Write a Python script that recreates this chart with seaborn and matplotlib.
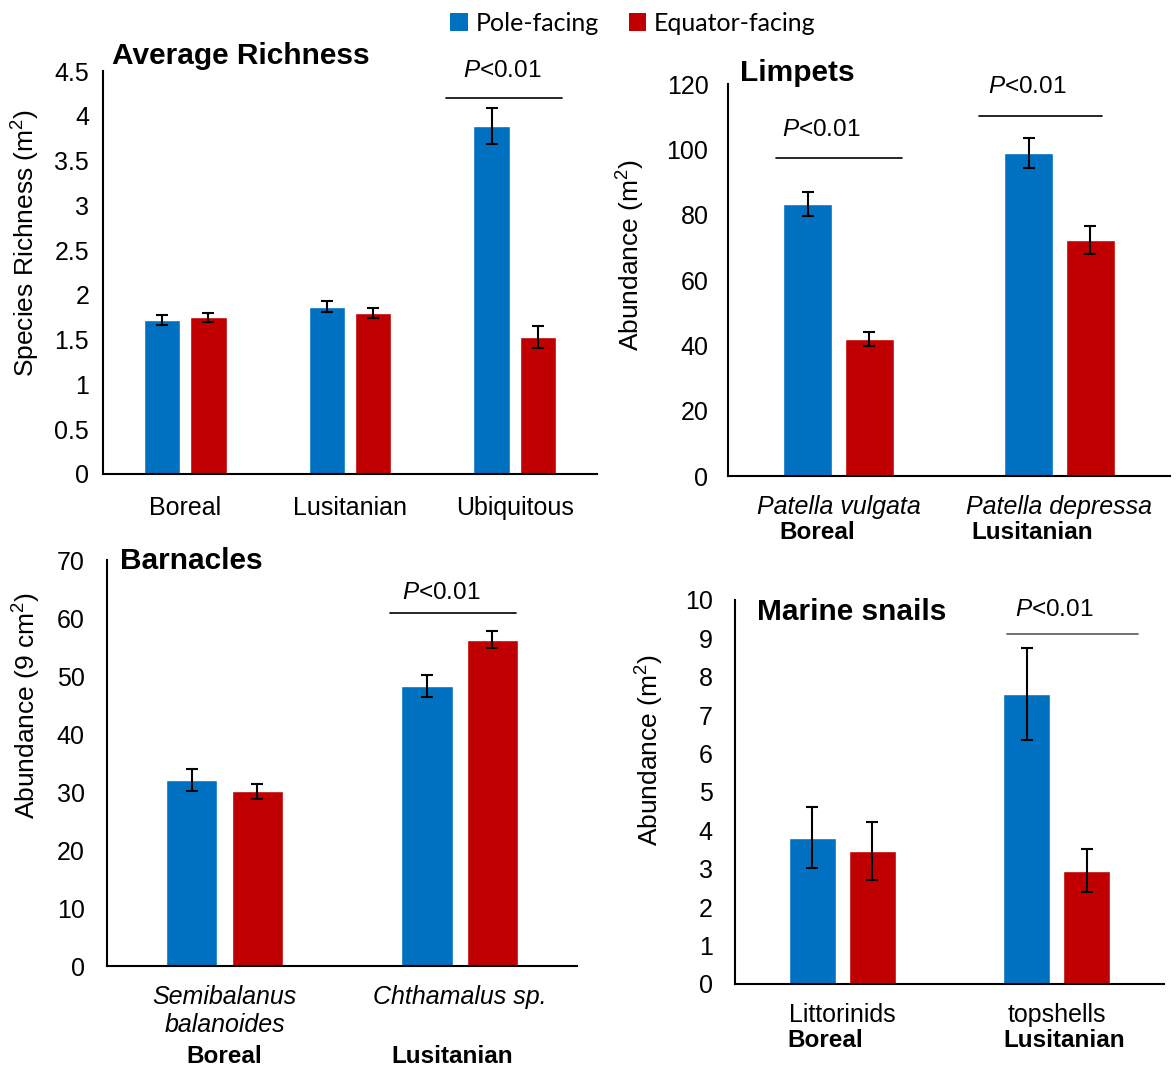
import numpy as np
import pandas as pd
import matplotlib
matplotlib.use("Agg")
import matplotlib.pyplot as plt
from matplotlib.patches import Patch
from matplotlib.ticker import FormatStrFormatter
import matplotlib.transforms as mtransforms
import seaborn as sns

facing = ["Pole-facing", "Equator-facing"]
colors = ["#0070C0", "#C00000"]

# Average richness
rich_groups = ["Boreal", "Lusitanian", "Ubiquitous"]
rich_pole = [1.72, 1.87, 3.89]
rich_eq = [1.75, 1.80, 1.53]
rich_pole_err = [0.06, 0.066, 0.2]
rich_eq_err = [0.053, 0.055, 0.118]

# Limpets
limp_species = ["Patella vulgata", "Patella depressa"]
limp_region = ["Boreal", "Lusitanian"]
limp_pole = [83.2, 98.9]
limp_eq = [42.0, 72.3]
limp_pole_err = [3.7, 4.6]
limp_eq_err = [2.2, 4.3]

# Barnacles
barn_species = ["Semibalanus\nbalanoides", "Chthamalus sp."]
barn_region = ["Boreal", "Lusitanian"]
barn_pole = [32.1, 48.3]
barn_eq = [30.1, 56.3]
barn_pole_err = [1.85, 1.9]
barn_eq_err = [1.35, 1.45]

# Marine snails
snail_species = ["Littorinids", "topshells"]
snail_region = ["Boreal", "Lusitanian"]
snail_pole = [3.81, 7.55]
snail_eq = [3.46, 2.95]
snail_pole_err = [0.79, 1.21]
snail_eq_err = [0.76, 0.56]

sns.set_theme(style="white")
plt.rcParams["font.family"] = ["Liberation Sans", "DejaVu Sans"]
plt.rcParams["mathtext.fontset"] = "custom"
plt.rcParams["mathtext.rm"] = "Liberation Sans"
plt.rcParams["mathtext.it"] = "Liberation Sans:italic"
plt.rcParams["mathtext.bf"] = "Liberation Sans:bold"
for k in ["text.color", "axes.labelcolor", "xtick.color", "ytick.color"]:
    plt.rcParams[k] = "black"

fig = plt.figure(figsize=(11.76, 10.68), dpi=100)


def draw_panel(ax, cats, pole, eq, pole_err, eq_err, ymax, step, ypad, xpad=14):
    df = pd.DataFrame({
        "cat": cats * 2,
        "facing": [facing[0]] * len(cats) + [facing[1]] * len(cats),
        "value": pole + eq,
    })
    sns.barplot(data=df, x="cat", y="value", hue="facing", hue_order=facing,
                palette=colors, width=0.56, gap=0.214, saturation=1,
                errorbar=None, legend=False, ax=ax)
    # error bars on top of the seaborn bars
    for cont, errs in zip(ax.containers, [pole_err, eq_err]):
        xs = [b.get_x() + b.get_width() / 2 for b in cont]
        hs = [b.get_height() for b in cont]
        ax.errorbar(xs, hs, yerr=errs, fmt="none", ecolor="black",
                    elinewidth=1.5, capsize=4, capthick=1.5)
    ax.set_ylim(0, ymax)
    ax.set_xlim(-0.5, len(cats) - 0.5)
    ax.set_yticks(np.arange(0, ymax + step / 2, step))
    ax.yaxis.set_major_formatter(FormatStrFormatter("%g"))
    ax.tick_params(length=0, labelsize=18)
    ax.tick_params(axis="x", pad=xpad)
    ax.tick_params(axis="y", pad=ypad)
    ax.set_xlabel("")
    for s in ["top", "right"]:
        ax.spines[s].set_visible(False)
    for s in ["left", "bottom"]:
        ax.spines[s].set_color("black")
        ax.spines[s].set_linewidth(1.5)


def p_mark(ax, x0, x1, y, tx, ty, color="black"):
    ax.plot([x0, x1], [y, y], color=color, lw=1.2)
    ax.text(tx, ty, "$P$<0.01", ha="center", va="center", fontsize=17.5)


def region_labels(ax, regions, offsets, y):
    tr = mtransforms.blended_transform_factory(ax.transData, ax.transAxes)
    for i, (r, off) in enumerate(zip(regions, offsets)):
        ax.text(i + off, y, r, transform=tr, ha="center", va="center",
                fontsize=17.5, fontweight="bold")


# Average richness
ax1 = fig.add_axes([0.0876, 0.5562, 0.42, 0.3773])
draw_panel(ax1, rich_groups, rich_pole, rich_eq, rich_pole_err, rich_eq_err, 4.5, 0.5, 10, xpad=16)
ax1.set_ylabel("Species Richness (m$^2$)", fontsize=19)
ax1.yaxis.set_label_coords(-0.124, 0.573)
ax1.text(0.018, 1.037, "Average Richness", transform=ax1.transAxes,
         fontsize=21.5, fontweight="bold", va="center")
p_mark(ax1, 1.586, 2.29, 4.2, 1.926, 4.5)

# Limpets
ax2 = fig.add_axes([0.619, 0.5543, 0.3759, 0.367])
draw_panel(ax2, limp_species, limp_pole, limp_eq, limp_pole_err, limp_eq_err, 120, 20, 14)
for t in ax2.get_xticklabels():
    t.set_fontstyle("italic")
ax2.set_ylabel("Abundance (m$^2$)", fontsize=19)
ax2.yaxis.set_label_coords(-0.184, 0.564)
ax2.text(0.027, 1.028, "Limpets", transform=ax2.transAxes,
         fontsize=21.5, fontweight="bold", va="center")
region_labels(ax2, limp_region, [-0.096, -0.124], -0.145)
p_mark(ax2, -0.281, 0.286, 97.3, -0.078, 106)
p_mark(ax2, 0.636, 1.193, 110.3, 0.852, 119)

# Barnacles
ax3 = fig.add_axes([0.091, 0.0955, 0.3997, 0.380])
draw_panel(ax3, barn_species, barn_pole, barn_eq, barn_pole_err, barn_eq_err, 70, 10, 16)
for t in ax3.get_xticklabels():
    t.set_fontstyle("italic")
    t.set_linespacing(1.2)
ax3.set_ylabel("Abundance (9 cm$^2$)", fontsize=19)
ax3.yaxis.set_label_coords(-0.136, 0.643)
ax3.text(0.028, 0.998, "Barnacles", transform=ax3.transAxes,
         fontsize=21.5, fontweight="bold", va="center")
region_labels(ax3, barn_region, [0.0, -0.03], -0.222)
p_mark(ax3, 0.706, 1.239, 60.9, 0.922, 64.3)

# Marine snails
ax4 = fig.add_axes([0.625, 0.0787, 0.3648, 0.3596])
draw_panel(ax4, snail_species, snail_pole, snail_eq, snail_pole_err, snail_eq_err, 10, 1, 16)
ax4.set_ylabel("Abundance (m$^2$)", fontsize=19)
ax4.yaxis.set_label_coords(-0.161, 0.609)
ax4.text(0.051, 0.969, "Marine snails", transform=ax4.transAxes,
         fontsize=21.5, fontweight="bold", va="center")
region_labels(ax4, snail_region, [-0.079, 0.034], -0.148)
p_mark(ax4, 0.769, 1.379, 9.12, 0.99, 9.74, color="#595959")

handles = [Patch(facecolor=c, edgecolor="none", label=f) for c, f in zip(colors, facing)]
fig.legend(handles=handles, loc="upper center", bbox_to_anchor=(0.538, 1.003),
           ncol=2, frameon=False, prop={"family": "Lato", "size": 18},
           handlelength=0.7, handleheight=0.7, handletextpad=0.3,
           columnspacing=1.2, borderaxespad=0.2)

fig.savefig("out.png", dpi=100)
